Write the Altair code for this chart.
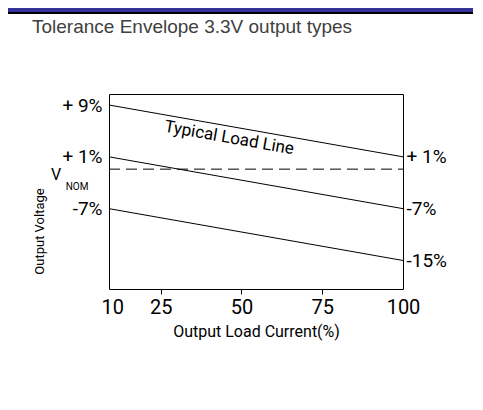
import altair as alt
import pandas as pd

# ---- data ----
load_pct = [9, 100]                       # x extent of the envelope lines (frame edges)
upper_limit = [9, 1]                      # +9% -> +1%
typical_line = [1, -7]                    # +1% -> -7%
lower_limit = [-7, -15]                   # -7% -> -15%
nominal_level = -0.9                      # dashed V_NOM line

x_tick_values = [10, 25, 50, 75, 100]
left_tick_values = [9, 1, -7]
left_tick_labels = ["+ 9%", "+ 1%", "-7%"]
right_tick_values = [1, -7, -15]
right_tick_labels = ["+ 1%", "-7%", "-15%"]

FONT = "Roboto"
W, H = 294, 195

rows = []
for name, vals in [("upper", upper_limit), ("typical", typical_line), ("lower", lower_limit)]:
    for xv, yv in zip(load_pct, vals):
        rows.append({"series": name, "x": xv, "y": yv})
lines_df = pd.DataFrame(rows)
nom_df = pd.DataFrame({"x": load_pct, "y": [nominal_level, nominal_level]})


def label_expr(values, labels):
    parts = " : ".join(f"datum.value == {v} ? '{l}'" for v, l in zip(values, labels))
    return parts + " : ''"


xscale = alt.Scale(domain=[9, 100], nice=False, zero=False)
yscale = alt.Scale(domain=[-19.4, 10.7], nice=False, zero=False)

xaxis = alt.Axis(
    values=x_tick_values, title="Output Load Current(%)", grid=False,
    domain=False, tickSize=5, tickColor="black",
    tickOpacity={"condition": {"test": "datum.value == 10 || datum.value == 100", "value": 0}, "value": 1},
    labelFont=FONT, labelFontSize=20, labelColor="black", labelPadding=3,
    labelFlush=False, labelOverlap=False,
    titleFont=FONT, titleFontSize=16, titleFontWeight="normal", titleColor="black", titlePadding=6,
)

left_axis = alt.Axis(
    orient="left", values=left_tick_values, labelExpr=label_expr(left_tick_values, left_tick_labels),
    grid=False, domain=False, ticks=False, labelPadding=7,
    labelFont=FONT, labelFontSize=19, labelColor="black", labelOverlap=False, labelFlush=False,
    title="Output Voltage", titleFont=FONT, titleFontSize=13, titleFontWeight="normal",
    titleColor="black", titleX=-70, titleY=137, titleAlign="center", titleBaseline="middle",
)
right_axis = alt.Axis(
    orient="right", values=right_tick_values, labelExpr=label_expr(right_tick_values, right_tick_labels),
    grid=False, domain=False, ticks=False, labelPadding=3,
    labelFont=FONT, labelFontSize=19, labelColor="black", labelOverlap=False, labelFlush=False,
    title=None,
)


def X():
    return alt.X("x:Q", scale=xscale, axis=xaxis)


lines = alt.Chart(lines_df).mark_line(color="black", strokeWidth=1).encode(
    x=X(),
    y=alt.Y("y:Q", scale=yscale, axis=left_axis),
    detail="series:N",
)

nominal = alt.Chart(nom_df).mark_line(color="black", strokeWidth=1, strokeDash=[11, 6]).encode(
    x=X(),
    y=alt.Y("y:Q", scale=yscale, axis=right_axis),
)

ann_df = pd.DataFrame({"x": [46.2], "y": [3.9], "t": ["Typical Load Line"]})
annotation = alt.Chart(ann_df).mark_text(
    font=FONT, fontSize=17, angle=10, color="black", align="center", baseline="middle"
).encode(x=X(), y=alt.Y("y:Q", scale=yscale, axis=None), text="t:N")

v_df = pd.DataFrame({"x": [9], "y": [nominal_level], "t": ["V"]})
v_text = alt.Chart(v_df).mark_text(
    font=FONT, fontSize=16, color="black", align="center", baseline="alphabetic", dx=-53, dy=11
).encode(x=X(), y=alt.Y("y:Q", scale=yscale, axis=None), text="t:N")
nom_df2 = pd.DataFrame({"x": [9], "y": [nominal_level], "t": ["NOM"]})
nom_text = alt.Chart(nom_df2).mark_text(
    font=FONT, fontSize=10, color="black", align="center", baseline="alphabetic", dx=-32, dy=21
).encode(x=X(), y=alt.Y("y:Q", scale=yscale, axis=None), text="t:N")

banner = alt.Chart(pd.DataFrame({"a": [0]})).mark_rect(color="#333399").encode(
    x=alt.value(-101), x2=alt.value(W + 80), y=alt.value(-86), y2=alt.value(-82)
)
banner_line = alt.Chart(pd.DataFrame({"a": [0]})).mark_rect(color="black").encode(
    x=alt.value(-101), x2=alt.value(W + 80), y=alt.value(-82), y2=alt.value(-80)
)

chart = alt.layer(banner, banner_line, lines, nominal, annotation, v_text, nom_text).resolve_axis(
    y="independent"
).properties(
    width=W, height=H,
    autosize=alt.AutoSizeParams(type="none"),
    padding={"left": 101, "top": 86, "right": 70, "bottom": 100},
    background="white",
    title=alt.TitleParams(
        "Tolerance Envelope 3.3V output types", anchor="start", frame="group",
        font="Liberation Sans", fontSize=19, fontWeight="normal", color="#404040",
        dx=-77, dy=29, offset=0,
    ),
).configure_view(stroke="black", strokeWidth=1)

chart.save("out.html", embed_options={"renderer": "svg", "actions": False})
